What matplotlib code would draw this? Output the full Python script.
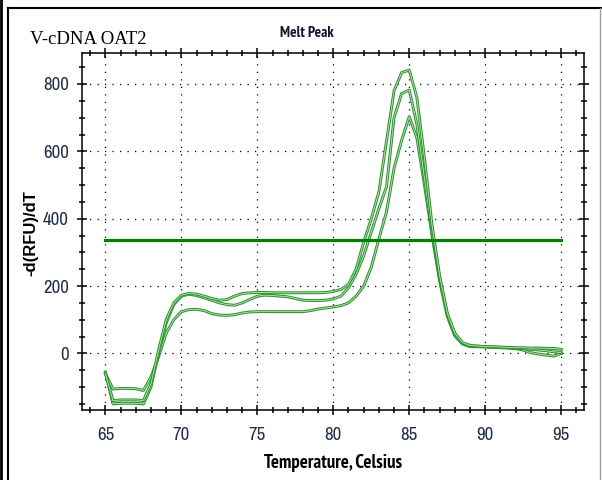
import matplotlib
matplotlib.use("Agg")
import matplotlib.pyplot as plt
import matplotlib.patheffects as pe
from matplotlib.lines import Line2D
from matplotlib.ticker import MultipleLocator

# ── data (0.5 C steps) ────────────────────────────────────────────────────
temps = [65.0, 65.5, 66.0, 66.5, 67.0, 67.5, 68.0, 68.5, 69.0, 69.5,
         70.0, 70.5, 71.0, 71.5, 72.0, 72.5, 73.0, 73.5, 74.0, 74.5,
         75.0, 75.5, 76.0, 76.5, 77.0, 77.5, 78.0, 78.5, 79.0, 79.5,
         80.0, 80.5, 81.0, 81.5, 82.0, 82.5, 83.0, 83.5, 84.0, 84.5,
         85.0, 85.5, 86.0, 86.5, 87.0, 87.5, 88.0, 88.5, 89.0, 89.5,
         90.0, 90.5, 91.0, 91.5, 92.0, 92.5, 93.0, 93.5, 94.0, 94.5, 95.0]

well_a = [-60, -140, -138, -138, -138, -140, -90, 10, 100, 150,
          173, 178, 176, 170, 163, 158, 160, 170, 178, 180,
          181, 181, 180, 180, 180, 180, 180, 180, 180, 181,
          184, 190, 205, 250, 330, 400, 480, 630, 780, 834,
          841, 760, 580, 380, 230, 120, 60, 32, 24, 22,
          20, 20, 19, 18, 17, 17, 16, 16, 15, 15, 12]

well_b = [-55, -150, -148, -148, -148, -150, -100, 0, 90, 145,
          170, 176, 172, 165, 158, 150, 145, 143, 150, 160,
          170, 173, 172, 170, 168, 163, 158, 157, 157, 158,
          162, 170, 195, 235, 290, 360, 430, 495, 700, 772,
          782, 680, 520, 360, 220, 115, 55, 30, 22, 21,
          20, 19, 18, 17, 16, 14, 12, 10, 8, 5, 2]

well_c = [-60, -106, -104, -104, -105, -110, -70, -10, 60, 100,
          124, 130, 131, 127, 118, 114, 113, 115, 120, 123,
          124, 124, 124, 124, 124, 124, 124, 127, 132, 135,
          138, 142, 150, 170, 200, 256, 340, 420, 550, 633,
          703, 640, 500, 350, 215, 110, 52, 28, 20, 20,
          19, 18, 17, 16, 14, 10, 2, -2, -5, -8, 0]

threshold = 336
thr_range = [65, 95]

x_ticks = [65, 70, 75, 80, 85, 90, 95]
y_ticks = [0, 200, 400, 600, 800]

NARROW = ["Archivo Narrow", "Liberation Sans", "DejaVu Sans"]
NARROW_BOLD = ["PT Sans Narrow", "Liberation Sans", "DejaVu Sans"]
TICK_COLOR = "#22304a"

fig = plt.figure(figsize=(6.02, 4.80), dpi=100)
ax = fig.add_axes([82 / 602, 1 - 410 / 480, 502 / 602, 357 / 480])

outline = [pe.Stroke(linewidth=2.1, foreground="#2f922f"), pe.Normal()]
for vals in (well_c, well_b, well_a):
    ax.plot(temps, vals, color="#bfe8bf", linewidth=0.6, path_effects=outline)

ax.plot(thr_range, [threshold, threshold], color="#008000", linewidth=2.3)

ax.set_xlim(63.46, 96.5)
ax.set_ylim(-168, 892)
ax.set_xticks(x_ticks)
ax.set_yticks(y_ticks)
ax.xaxis.set_minor_locator(MultipleLocator(1))
ax.yaxis.set_minor_locator(MultipleLocator(50))
ax.tick_params(which="both", direction="inout", top=True, right=True,
               labeltop=False, labelright=False, width=1.1, color="black")
ax.tick_params(which="major", length=7)
ax.tick_params(which="minor", length=5)
ax.tick_params(axis="x", which="major", pad=9)
ax.tick_params(axis="y", which="major", pad=6)
for lab in ax.get_xticklabels() + ax.get_yticklabels():
    lab.set_family(NARROW)
    lab.set_fontsize(13.5)
    lab.set_color(TICK_COLOR)

ax.grid(True, which="major", color="black", linestyle=(0, (1, 5)), linewidth=0.9)
for sp in ax.spines.values():
    sp.set_linewidth(1.1)

ax.set_xlabel("Temperature, Celsius", family=NARROW_BOLD, fontsize=13.5,
              fontweight="bold", labelpad=8)
fig.text(31 / 602, 1 - 233 / 480, "-d(RFU)/dT", rotation=90, ha="center",
         va="center", family=["Liberation Sans", "DejaVu Sans"], fontsize=12,
         fontweight="bold")
fig.text(307 / 602, 1 - 33 / 480, "Melt Peak", ha="center", va="center",
         family=NARROW_BOLD, fontsize=11, fontweight="bold", color="#141430")
fig.text(30 / 602, 1 - 40 / 480, "V-cDNA OAT2", ha="left", va="center",
         family=["Liberation Serif", "DejaVu Serif"], fontsize=13.5)

# outer frame of the pasted figure
def px_line(x0, y0, x1, y1, color="black", lw=1.5):
    fig.add_artist(Line2D([x0 / 602, x1 / 602], [1 - y0 / 480, 1 - y1 / 480],
                          transform=fig.transFigure, color=color, linewidth=lw))

px_line(1, 0, 1, 480, lw=2)
px_line(8, 8, 8, 480, lw=1.5)
px_line(8, 8, 602, 8, lw=1.5)
px_line(600, 8, 600, 480, color="#a0a0a0", lw=1)

fig.savefig("out.png", dpi=100)
